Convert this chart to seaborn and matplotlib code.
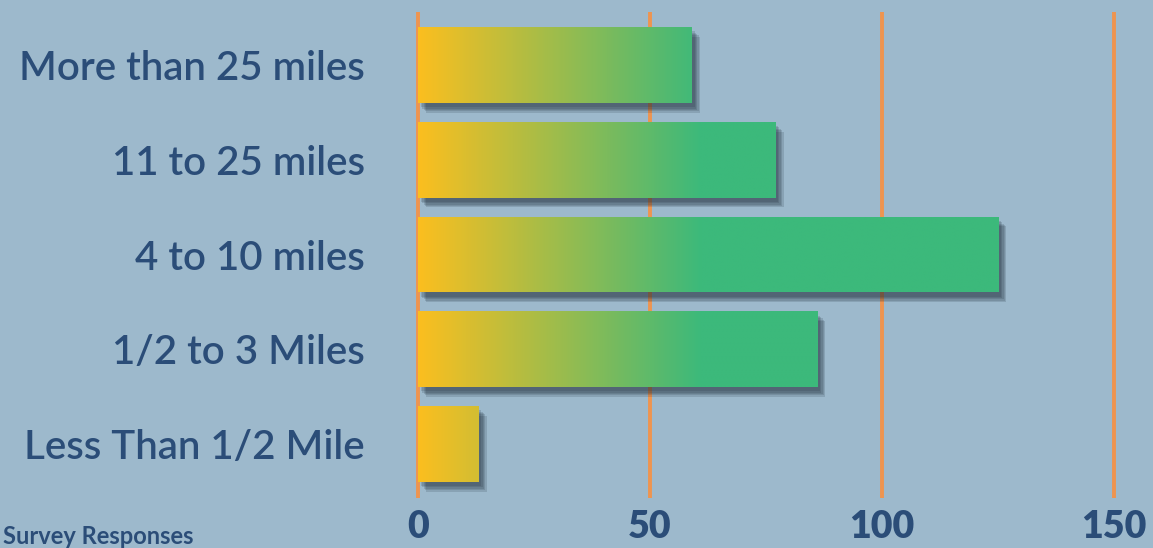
import numpy as np
import pandas as pd
import matplotlib.pyplot as plt
import matplotlib.patheffects as pe
from matplotlib.colors import LinearSegmentedColormap
import seaborn as sns

# distances (top to bottom) and number of survey responses
categories = ["More than 25 miles", "11 to 25 miles", "4 to 10 miles",
              "1/2 to 3 Miles", "Less Than 1/2 Mile"]
responses = [59, 77, 125, 86, 13]
x_ticks = [0, 50, 100, 150]

BG = "#9db9cc"
NAVY = "#2b4d78"
GRID = "#ee9450"

df = pd.DataFrame({"distance": categories, "responses": responses})

sns.set_theme(style="white")
plt.rcParams["font.family"] = ["Lato", "DejaVu Sans"]

fig = plt.figure(figsize=(11.53, 5.48), dpi=100, facecolor=BG)
# axes placed in pixels: left 408, right 1153, top 12, bottom 498
ax = fig.add_axes([408 / 1153, 50 / 548, 745 / 1153, 486 / 548])
ax.set_facecolor(BG)

sns.barplot(data=df, y="distance", x="responses", orient="h", width=0.8,
            color="#3cb97b", linewidth=0, ax=ax, zorder=3)

for t in x_ticks:
    ax.axvline(t, color=GRID, lw=2.8, zorder=1)

# yellow -> green gradient, reaching full green around 61 responses
cmap = LinearSegmentedColormap.from_list("yg", ["#fbbf1f", "#3cb97b"])
grad_max = 61
# soft drop shadow made of a few offset layers
shadow = [pe.SimplePatchShadow(offset=(d, -d - 1), shadow_rgbFace="#1f2c3a", alpha=0.16)
          for d in (2, 3, 4, 5, 6)]
for bar in ax.patches:
    x0, y0 = bar.get_x(), bar.get_y()
    w, h = bar.get_width(), bar.get_height()
    bar.set_path_effects(shadow + [pe.Normal()])
    vals = np.clip(np.linspace(0, w, 300) / grad_max, 0, 1).reshape(1, -1)
    im = ax.imshow(vals, cmap=cmap, vmin=0, vmax=1, aspect="auto",
                   extent=[x0, x0 + w, y0 + h, y0], zorder=4,
                   interpolation="bilinear")
    im.set_clip_path(bar)

ax.set_xlim(-2.16, 158.4)
ax.set_ylim(4.57, -0.56)
ax.set_xticks(x_ticks)
ax.set_xticklabels([str(t) for t in x_ticks])
ax.set_xlabel("")
ax.set_ylabel("")
ax.tick_params(axis="x", length=0, pad=9, labelsize=27, labelcolor=NAVY)
ax.tick_params(axis="y", length=0, pad=31, labelsize=29, labelcolor=NAVY)
for lbl in ax.get_xticklabels():
    lbl.set_fontweight("heavy")
for lbl in ax.get_yticklabels():
    lbl.set_fontweight("semibold")
for s in ax.spines.values():
    s.set_visible(False)

fig.text(3 / 1153, 1 - 537 / 548, "Survey Responses", ha="left", va="center",
         fontsize=17, fontweight="bold", color=NAVY)

fig.savefig("out.png", dpi=100, facecolor=BG)
